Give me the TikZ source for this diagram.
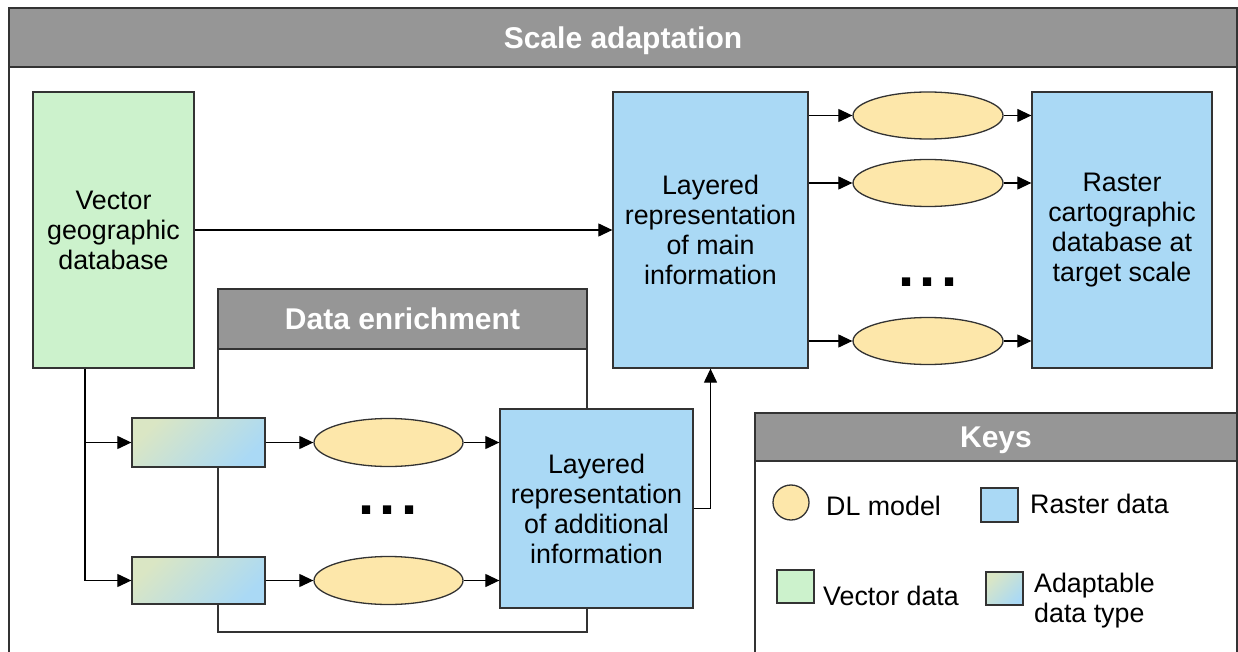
\documentclass[tikz,border=0pt]{standalone}
\usepackage{fontspec}
\setmainfont{Liberation Sans}
\usetikzlibrary{arrows.meta,shapes.geometric}

\definecolor{hdgray}{HTML}{969696}
\definecolor{vecgreen}{HTML}{CCF2CC}
\definecolor{rasblue}{HTML}{AAD9F5}
\definecolor{dlyellow}{HTML}{FDE7AA}
\definecolor{adapgreen}{HTML}{DAE6C4}
\definecolor{edgegray}{HTML}{333333}

\begin{document}
\begin{tikzpicture}[x=1pt,y=-1pt,
		edgeline/.style={draw=edgegray,line width=1.3pt},
		head/.style={edgeline,fill=hdgray,text=white,inner sep=0pt,font=\bfseries\fontsize{30}{30}\selectfont,text height=21.5pt,text depth=0pt},
		box/.style={edgeline,inner sep=0pt,align=center,font=\fontsize{26.8}{30}\selectfont},
		raster/.style={box,fill=rasblue},
		model/.style={edgeline,ellipse,fill=dlyellow,inner sep=0pt},
		adapt/.style={edgeline,inner sep=0pt,top color=adapgreen,bottom color=rasblue,shading angle=45},
		conn/.style={-{Stealth[inset=0pt,length=14pt,width=13pt]},line width=1.2pt},
		dots/.style={font=\bfseries\fontsize{58}{58}\selectfont,anchor=base,inner sep=0pt},
		keytxt/.style={font=\fontsize{26.8}{30}\selectfont,anchor=base west,inner sep=0pt,align=left}
	]
	\useasboundingbox (0,0) rectangle (1238,652);
	\clip (0,0) rectangle (1238,652);

	% frames
	\draw[edgeline] (9,8) rectangle (1237,700);
	\node[head,minimum width=1228,minimum height=59] (scale) at (623,37.5) {Scale adaptation};
	\draw[edgeline] (218,349) rectangle (587,632);
	\node[head,minimum width=369,minimum height=60] (enrich) at (402.5,319) {Data enrichment};
	\draw[edgeline] (755,461) rectangle (1237,700);
	\node[head,minimum width=482,minimum height=48] (keys) at (996,437) {Keys};

	% scale adaptation
	\node[box,fill=vecgreen,minimum width=161,minimum height=276] (vector) at (113.5,230) {Vector\\geographic\\database};
	\node[raster,minimum width=195,minimum height=276] (main) at (710.5,230) {Layered\\representation\\of main\\information};
	\node[raster,minimum width=180,minimum height=276] (target) at (1122,230) {Raster\\cartographic\\database at\\target scale};
	\node[model,minimum width=150,minimum height=47] (m1) at (928,115.5) {};
	\node[model,minimum width=150,minimum height=47] (m2) at (928,183) {};
	\node[model,minimum width=150,minimum height=47] (m3) at (928,341) {};
	\node[dots] (mdots) at (928,286.5) {.\kern5.6pt.\kern5.6pt.};

	% data enrichment
	\node[adapt,minimum width=133,minimum height=49] (a1) at (198.5,442.5) {};
	\node[adapt,minimum width=133,minimum height=47] (a2) at (198.5,580.5) {};
	\node[model,minimum width=149,minimum height=48] (e1) at (388.5,442.5) {};
	\node[model,minimum width=149,minimum height=48] (e2) at (388.5,580.5) {};
	\node[dots] (edots) at (388,514.5) {.\kern5.6pt.\kern5.6pt.};
	\node[raster,minimum width=193,minimum height=199] (extra) at (596.5,508.5) {Layered\\representation\\of additional\\information};

	\coordinate (tap) at ([xshift=-28.5pt]vector.south);
	\path[conn]
	(vector) edge (main)
	(m1 -| main.east) edge (m1)
	(m2 -| main.east) edge (m2)
	(m3 -| main.east) edge (m3)
	(m1) edge (m1 -| target.west)
	(m2) edge (m2 -| target.west)
	(m3) edge (m3 -| target.west)
	(tap |- a1) edge (a1)
	(a1) edge (e1)
	(a2) edge (e2)
	(e1) edge (e1 -| extra.west)
	(e2) edge (e2 -| extra.west);
	\draw[conn] (tap) |- (a2);
	\draw[conn] (extra.east) -| (main.south);

	% keys
	\node[model,minimum width=36,minimum height=35] (kdl) at (791,502.5) {};
	\node[keytxt] (kdltxt) at (826,515) {DL model};
	\node[raster,minimum width=37,minimum height=34] (kras) at (999.5,505) {};
	\node[keytxt] (krastxt) at (1030,513) {Raster data};
	\node[box,fill=vecgreen,minimum width=37,minimum height=33] (kvec) at (795.5,586.5) {};
	\node[keytxt] (kvectxt) at (823,605) {Vector data};
	\node[adapt,minimum width=37,minimum height=33] (kadp) at (1004.5,588.5) {};
	\node[keytxt] (kadptxt) at (1034,622) {Adaptable\\data type};
\end{tikzpicture}
\end{document}
